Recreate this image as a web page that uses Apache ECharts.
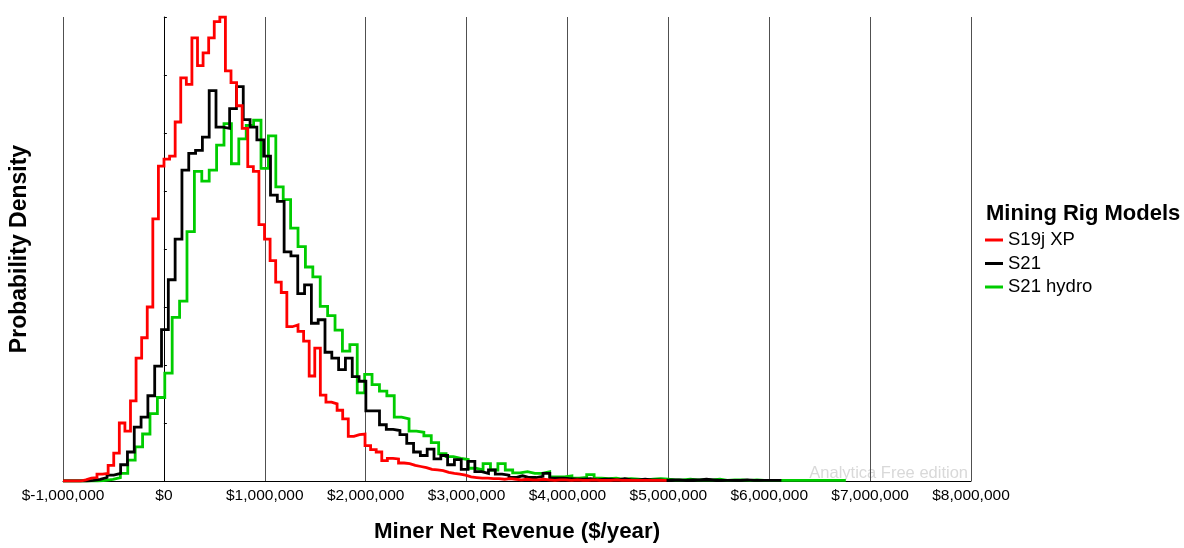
<!DOCTYPE html>
<html>
<head>
<meta charset="utf-8">
<script src="https://cdn.jsdelivr.net/npm/echarts@6/dist/echarts.min.js"></script>
<style>
  html, body { margin: 0; padding: 0; background: #ffffff; }
  #chart { width: 1184px; height: 548px; }
</style>
</head>
<body>
<div id="chart"></div>
<script>
// Histogram-style probability densities of yearly net revenue per rig model.
// Each model has its own bin grid: first bin edge ($) and bin width ($).
const seriesNames = ['S19j XP', 'S21', 'S21 hydro'];
const seriesColors = ['#ff0000', '#000000', '#00cc00'];

const s19jXpStart = -829200;
const s19jXpBinWidth = 55350;
const s19jXpDensity = [
  0.02, 0.05, 0.06, 0.12, 0.13, 0.27, 0.48, 1.00, 0.86, 1.38,
  2.12, 2.47, 3.00, 4.52, 5.43, 5.55, 5.60, 6.19, 6.95, 6.84,
  7.64, 7.16, 7.38, 7.64, 7.92, 8.00, 7.07, 6.87, 6.47, 6.08,
  5.42, 5.34, 4.42, 4.17, 3.80, 3.43, 3.25, 2.66, 2.69, 2.58,
  2.41, 1.81, 2.29, 1.48, 1.36, 1.33, 1.22, 1.07, 0.77, 0.80,
  0.81, 0.61, 0.54, 0.50, 0.35, 0.39, 0.38, 0.31, 0.30, 0.27,
  0.25, 0.23, 0.20, 0.19, 0.18, 0.15, 0.13, 0.12, 0.10, 0.07,
  0.06, 0.05, 0.05, 0.04, 0.04, 0.03, 0.04, 0.03, 0.02, 0.03,
  0.02, 0.02, 0.03, 0.02, 0.01, 0.02, 0.02, 0.01, 0.02, 0.01,
  0.01, 0.02, 0.01, 0.01, 0.01, 0.02, 0.01, 0.01, 0.01, 0.01,
  0.01, 0.01, 0.01, 0.01, 0.01
];

const s21Start = -766300;
const s21BinWidth = 67520;
const s21Density = [
  0.01, 0.03, 0.06, 0.10, 0.13, 0.28, 0.50, 0.93, 1.10, 1.47,
  1.98, 2.61, 3.47, 4.17, 5.36, 5.65, 5.70, 5.93, 6.73, 6.10,
  6.08, 6.42, 6.80, 6.23, 6.10, 5.88, 5.60, 4.93, 4.82, 3.95,
  3.88, 3.23, 3.38, 2.72, 2.78, 2.22, 2.12, 1.92, 2.12, 1.80,
  1.72, 1.21, 1.21, 0.97, 0.89, 0.87, 0.80, 0.65, 0.50, 0.44,
  0.55, 0.38, 0.44, 0.28, 0.37, 0.20, 0.34, 0.16, 0.13, 0.19,
  0.12, 0.10, 0.06, 0.09, 0.06, 0.06, 0.08, 0.13, 0.05, 0.05,
  0.04, 0.03, 0.03, 0.04, 0.02, 0.03, 0.03, 0.02, 0.04, 0.02,
  0.02, 0.03, 0.02, 0.02, 0.01, 0.02, 0.02, 0.01, 0.02, 0.02,
  0.03, 0.02, 0.01, 0.01, 0.01, 0.01, 0.02, 0.01, 0.01, 0.01,
  0.01, 0.01
];

const s21HydroStart = -651500;
const s21HydroBinWidth = 73370;
const s21HydroDensity = [
  0.01, 0.03, 0.06, 0.13, 0.36, 0.59, 0.81, 1.16, 1.44, 1.86,
  2.82, 3.10, 4.30, 5.34, 5.17, 5.36, 5.79, 6.16, 5.47, 5.90,
  6.13, 6.22, 5.39, 5.95, 5.07, 4.85, 4.36, 4.04, 3.69, 3.52,
  3.01, 2.85, 2.60, 2.24, 2.35, 1.52, 1.84, 1.66, 1.55, 1.47,
  1.10, 1.07, 0.86, 0.84, 0.78, 0.66, 0.47, 0.42, 0.39, 0.37,
  0.22, 0.19, 0.30, 0.19, 0.30, 0.19, 0.14, 0.16, 0.13, 0.13,
  0.16, 0.07, 0.07, 0.09, 0.05, 0.06, 0.11, 0.05, 0.04, 0.05,
  0.03, 0.04, 0.03, 0.02, 0.03, 0.04, 0.03, 0.02, 0.02, 0.03,
  0.02, 0.02, 0.02, 0.03, 0.01, 0.02, 0.02, 0.01, 0.02, 0.01,
  0.01, 0.01, 0.01, 0.01, 0.01, 0.01, 0.01, 0.01, 0.01, 0.01,
  0.01
];

const xMin = -1000000;
const xMax = 8000000;
const xStep = 1000000;
const yMax = 8;

// Turn a bin grid plus densities into step-line vertices.
function stepPoints(start, width, dens) {
  const pts = [[xMin, 0], [start, 0]];
  dens.forEach((d, i) => pts.push([start + i * width, d]));
  const end = start + dens.length * width;
  pts.push([end, dens[dens.length - 1]]);
  pts.push([end, 0]);
  return pts;
}

function money(v) {
  return '$' + Math.round(v).toLocaleString('en-US');
}

const stepData = [
  stepPoints(s19jXpStart, s19jXpBinWidth, s19jXpDensity),
  stepPoints(s21Start, s21BinWidth, s21Density),
  stepPoints(s21HydroStart, s21HydroBinWidth, s21HydroDensity)
];

const font = '"Liberation Sans", Arial, sans-serif';

// Draw hydro first, then S21, then S19j XP on top.
const drawOrder = [2, 1, 0];
const series = drawOrder.map(k => ({
  name: seriesNames[k],
  type: 'line',
  step: 'end',
  data: stepData[k],
  showSymbol: false,
  symbol: 'none',
  silent: true,
  animation: false,
  lineStyle: { color: seriesColors[k], width: 2.8, join: 'miter' },
  itemStyle: { color: seriesColors[k] },
  z: 3 + (2 - k)
}));

const chart = echarts.init(document.getElementById('chart'), null, { renderer: 'canvas' });
chart.setOption({
  animation: false,
  backgroundColor: '#ffffff',
  grid: { left: 61, right: 213, top: 17, bottom: 62, containLabel: false },
  xAxis: {
    type: 'value',
    min: xMin,
    max: xMax,
    interval: xStep,
    name: 'Miner Net Revenue ($/year)',
    nameLocation: 'middle',
    nameGap: 40,
    nameTextStyle: { fontFamily: font, fontSize: 22.3, fontWeight: 'bold', color: '#000' },
    axisLine: { show: true, lineStyle: { color: '#000', width: 1 } },
    axisTick: { show: false },
    axisLabel: {
      formatter: money,
      fontFamily: font, fontSize: 15.5, color: '#000', margin: 7
    },
    splitLine: { show: true, lineStyle: { color: '#505050', width: 1 } }
  },
  yAxis: {
    type: 'value',
    min: 0,
    max: yMax,
    interval: 1,
    name: 'Probability Density',
    nameLocation: 'middle',
    nameRotate: 90,
    nameGap: 32,
    nameTextStyle: { fontFamily: font, fontSize: 23, fontWeight: 'bold', color: '#000' },
    axisLine: { show: true, lineStyle: { color: '#000', width: 1 } },
    axisTick: { show: true, inside: true, length: 3, lineStyle: { color: '#000' } },
    axisLabel: { show: false },
    splitLine: { show: false }
  },
  legend: {
    data: seriesNames,
    orient: 'vertical',
    left: 985,
    top: 230,
    padding: 0,
    itemWidth: 18,
    itemHeight: 3,
    itemGap: 3.5,
    icon: 'rect',
    textStyle: { fontFamily: font, fontSize: 18.5, color: '#000', lineHeight: 20 },
    selectedMode: false
  },
  graphic: [
    {
      type: 'text',
      left: 986,
      top: 203,
      style: { text: 'Mining Rig Models', font: 'bold 22px ' + font, fill: '#000' }
    },
    {
      type: 'text',
      right: 216,
      top: 465,
      style: { text: 'Analytica Free edition', font: '16.5px ' + font, fill: '#d9d9d9' }
    }
  ],
  series: series
});
</script>
</body>
</html>
